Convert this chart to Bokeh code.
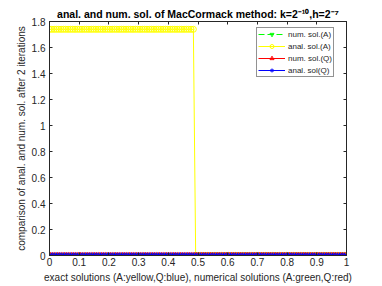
import math
from bokeh.plotting import figure
from bokeh.models import (Range1d, LinearAxis, Legend, LegendItem, Title,
                          CustomJSTickFormatter, FixedTicker)
from bokeh.embed import file_html
from bokeh.resources import INLINE

# ---- data ----
n_points = 129
h = 1.0 / 128
x_vals = [i * h for i in range(n_points)]
anal_A = [1.74] * 63 + [0.0] * 66
num_A = [0.0] * 129
num_Q = [0.0] * 129
anal_Q = [0.0] * 129

x_ticks = [0, 0.1, 0.2, 0.3, 0.4, 0.5, 0.6, 0.7, 0.8, 0.9, 1.0]
y_ticks = [0, 0.2, 0.4, 0.6, 0.8, 1.0, 1.2, 1.4, 1.6, 1.8]

title_text = "anal. and num. sol. of MacCormack method: k=2\u207b\u00b9\u2070,h=2\u207b\u2077"
xlabel = "exact solutions (A:yellow,Q:blue), numerical solutions (A:green,Q:red)"
ylabel = "comparison of anal. and num. sol. after 2 iterations"

FONT = "Liberation Sans"
AX = "#262626"

p = figure(width=382, height=286, output_backend="svg", toolbar_location=None,
           x_range=Range1d(0, 1), y_range=Range1d(0, 1.8),
           frame_width=297, frame_height=234,
           min_border_left=49, min_border_right=36, min_border_top=21, min_border_bottom=31)
p.grid.visible = False
p.outline_line_color = AX
p.background_fill_color = "white"
p.border_fill_color = "white"

p.title = Title(text=title_text, align="center", text_font=FONT, text_font_size="10.5px",
                text_font_style="bold", text_color="black", standoff=3, offset=0)

fmt = CustomJSTickFormatter(code="return String(Math.round(tick*10)/10);")
blank = CustomJSTickFormatter(code="return '';")

for ax in p.xaxis + p.yaxis:
    ax.major_tick_in = 3
    ax.major_tick_out = 0
    ax.minor_tick_line_color = None
    ax.axis_line_color = AX
    ax.major_tick_line_color = AX
    ax.major_label_text_color = AX
    ax.major_label_text_font = FONT
    ax.major_label_text_font_size = "10px"
    ax.axis_label_text_font = FONT
    ax.axis_label_text_font_size = "10px"
    ax.axis_label_text_font_style = "normal"
    ax.axis_label_text_color = AX
    ax.formatter = fmt
p.xaxis.ticker = FixedTicker(ticks=x_ticks)
p.yaxis.ticker = FixedTicker(ticks=y_ticks)
p.xaxis.axis_label = xlabel
p.yaxis.axis_label = ylabel
p.xaxis.major_label_standoff = 2
p.yaxis.major_label_standoff = 4
p.xaxis.axis_label_standoff = 3
p.yaxis.axis_label_standoff = 2

top_ax = LinearAxis(ticker=FixedTicker(ticks=x_ticks), major_tick_in=3, major_tick_out=0,
                    minor_tick_line_color=None, axis_line_color=AX, major_tick_line_color=AX,
                    formatter=blank, major_label_standoff=0)
right_ax = LinearAxis(ticker=FixedTicker(ticks=y_ticks), major_tick_in=3, major_tick_out=0,
                      minor_tick_line_color=None, axis_line_color=AX, major_tick_line_color=AX,
                      formatter=blank, major_label_standoff=0)
p.add_layout(top_ax, "above")
p.add_layout(right_ax, "right")

ms = 6
lg = p.line(x_vals, num_A, line_color="#00ff00", line_dash="6 3", line_width=1)
sg = p.scatter(x_vals, num_A, marker="inverted_triangle", size=ms, line_color="#00ff00",
               fill_color=None, line_width=1)
ly = p.line(x_vals, anal_A, line_color="#ffff00", line_width=1)
sy = p.scatter(x_vals, anal_A, marker="circle", size=ms, line_color="#ffff00",
               fill_color=None, line_width=1)
lr = p.line(x_vals, num_Q, line_color="#ff0000", line_width=1)
sr = p.scatter(x_vals, num_Q, marker="triangle", angle=-math.pi / 2, size=ms,
               line_color="#ff0000", fill_color=None, line_width=1)
lb = p.line(x_vals, anal_Q, line_color="#0000ff", line_width=1)
sb = p.scatter(x_vals, anal_Q, marker="asterisk", size=ms, line_color="#0000ff", line_width=1)

legend = Legend(items=[
    LegendItem(label="num. sol.(A)", renderers=[lg, sg]),
    LegendItem(label="anal. sol.(A)", renderers=[ly, sy]),
    LegendItem(label="num. sol.(Q)", renderers=[lr, sr]),
    LegendItem(label="anal. sol(Q)", renderers=[lb, sb]),
], location=(207, 178))
legend.label_text_font = FONT
legend.label_text_font_size = "8px"
legend.label_text_color = AX
legend.label_height = 10
legend.glyph_height = 10
legend.glyph_width = 27
legend.label_standoff = 3
legend.spacing = 2
legend.padding = 1
legend.margin = 0
legend.border_line_color = AX
legend.background_fill_color = "white"
legend.background_fill_alpha = 1
p.add_layout(legend, "center")

open("out.html", "w").write(file_html(p, INLINE))
